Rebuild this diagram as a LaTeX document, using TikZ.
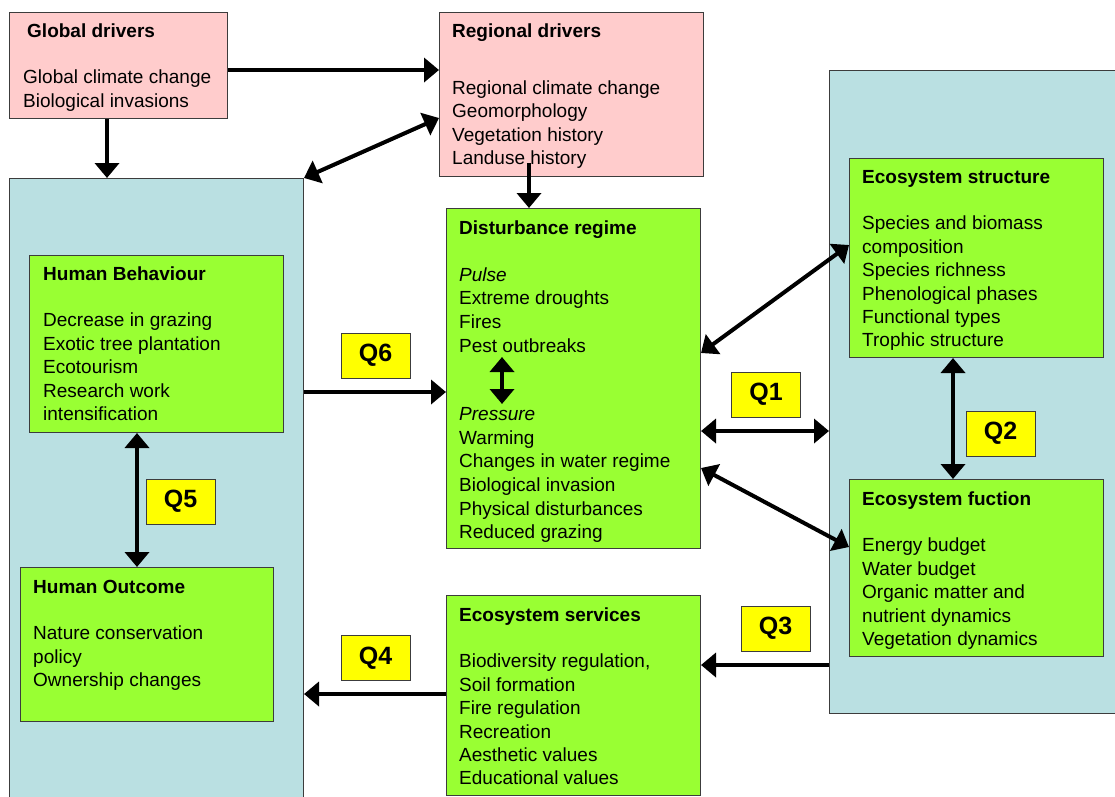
\documentclass[tikz,border=0pt]{standalone}
\usepackage{fontspec}
\setmainfont{Liberation Sans}
\usetikzlibrary{arrows.meta}
\definecolor{pinkfill}{RGB}{255,204,204}
\definecolor{panelblue}{RGB}{186,224,226}
\definecolor{greenfill}{RGB}{153,255,51}
\definecolor{qyellow}{RGB}{255,255,0}
\definecolor{edgegray}{RGB}{60,60,60}
\newcommand{\txtlines}[1]{\begin{tabular}[t]{@{}l@{}}#1\end{tabular}}
\tikzset{
  boxbase/.style={rectangle, draw=edgegray, line width=1pt, inner sep=0pt, anchor=north west},
  pinkbox/.style={boxbase, fill=pinkfill},
  panel/.style={boxbase, fill=panelblue},
  greenbox/.style={boxbase, fill=greenfill},
  qbox/.style={rectangle, draw=edgegray, line width=1pt, fill=qyellow, inner sep=0pt,
    minimum width=69pt, minimum height=45pt, font=\fontsize{25}{28}\selectfont\bfseries},
  txt/.style={inner sep=0pt, anchor=base west, font=\fontsize{19}{23.4}\selectfont},
  arr/.style={line width=4pt, -{Triangle[length=15pt,width=24pt]}},
  darr/.style={line width=4pt, {Triangle[length=15pt,width=24pt]}-{Triangle[length=15pt,width=24pt]}}
}
\begin{document}
\begin{tikzpicture}[x=1pt,y=-1pt]
\useasboundingbox (0,0) rectangle (1115,796);
\clip (0,0) rectangle (1115,796);
% panels
\node[panel, minimum width=294pt, minimum height=630pt] (lp) at (9,178) {};
\node[panel, minimum width=300pt, minimum height=643pt] (rp) at (829,70) {};
% driver boxes
\node[pinkbox, minimum width=218pt, minimum height=106pt] (gd) at (9,12) {};
\node[pinkbox, minimum width=264pt, minimum height=164pt] (rd) at (439,12) {};
% green boxes
\node[greenbox, minimum width=254pt, minimum height=177pt] (hb) at (29,255) {};
\node[greenbox, minimum width=253pt, minimum height=154pt] (ho) at (20,567) {};
\node[greenbox, minimum width=254pt, minimum height=340pt] (dr) at (446,208) {};
\node[greenbox, minimum width=254pt, minimum height=200pt] (sv) at (446,595) {};
\node[greenbox, minimum width=254pt, minimum height=199pt] (es) at (849,158) {};
\node[greenbox, minimum width=254pt, minimum height=177pt] (ef) at (849,479) {};
% texts
\node[txt] (gdt) at (23,37) {\txtlines{\hspace{4pt}\textbf{Global drivers}\\ \\ Global climate change\\ Biological invasions}};
\node[txt] (rdt) at (452,37) {\txtlines{\textbf{Regional drivers}\\[34pt] Regional climate change\\ Geomorphology\\ Vegetation history\\ Landuse history}};
\node[txt] (hbt) at (43,280) {\txtlines{\textbf{Human Behaviour}\\ \\ Decrease in grazing\\ Exotic tree plantation\\ Ecotourism\\ Research work\\ intensification}};
\node[txt] (hot) at (33,593) {\txtlines{\textbf{Human Outcome}\\ \\ Nature conservation\\ policy\\ Ownership changes}};
\node[txt, font=\fontsize{19}{23.6}\selectfont] (drt) at (459,234) {\txtlines{\textbf{Disturbance regime}\\ \\ \textit{Pulse}\\ Extreme droughts\\ Fires\\ Pest outbreaks\\[45pt] \textit{Pressure}\\ Warming\\ Changes in water regime\\ Biological invasion\\ Physical disturbances\\ Reduced grazing}};
\node[txt] (svt) at (459,621) {\txtlines{\textbf{Ecosystem services}\\ \\ Biodiversity regulation,\\ Soil formation\\ Fire regulation\\ Recreation\\ Aesthetic values\\ Educational values}};
\node[txt] (est) at (862,183) {\txtlines{\textbf{Ecosystem structure}\\ \\ Species and biomass\\ composition\\ Species richness\\ Phenological phases\\ Functional types\\ Trophic structure}};
\node[txt] (eft) at (862,505) {\txtlines{\textbf{Ecosystem fuction}\\ \\ Energy budget\\ Water budget\\ Organic matter and\\ nutrient dynamics\\ Vegetation dynamics}};
% Q labels
\node[qbox] (q1) at (766,394.5) {Q1};
\node[qbox] (q2) at (1000.5,433.5) {Q2};
\node[qbox] (q3) at (775.5,628.5) {Q3};
\node[qbox] (q4) at (375.5,658) {Q4};
\node[qbox] (q5) at (180.5,501.5) {Q5};
\node[qbox] (q6) at (375.5,355.5) {Q6};
% connectors
\coordinate (rdout) at (529,163);
\coordinate (pa) at (502,357);
\coordinate (pb) at (502,404);
\draw[arr] (gd.east |- 0,70) -- (rd.west |- 0,70);
\draw[arr] (gd.south -| 107,0) -- (lp.north -| 107,0);
\draw[darr] (lp.north east) -- (rd.west |- 0,118);
\draw[arr] (rdout) -- (dr.north -| 529,0);
\draw[darr] (pa) -- (pb);
\draw[arr] (lp.east |- 0,392) -- (dr.west |- 0,392);
\draw[darr] (dr.east |- 0,353) -- (es.west |- 0,245);
\draw[darr] (dr.east |- 0,431) -- (rp.west |- 0,431);
\draw[darr] (dr.east |- 0,468) -- (ef.west |- 0,547);
\draw[darr] (es.south -| 953,0) -- (ef.north -| 953,0);
\draw[arr] (rp.west |- 0,665) -- (sv.east |- 0,665);
\draw[arr] (sv.west |- 0,694) -- (lp.east |- 0,694);
\draw[darr] (hb.south -| 137,0) -- (ho.north -| 137,0);
\end{tikzpicture}
\end{document}
